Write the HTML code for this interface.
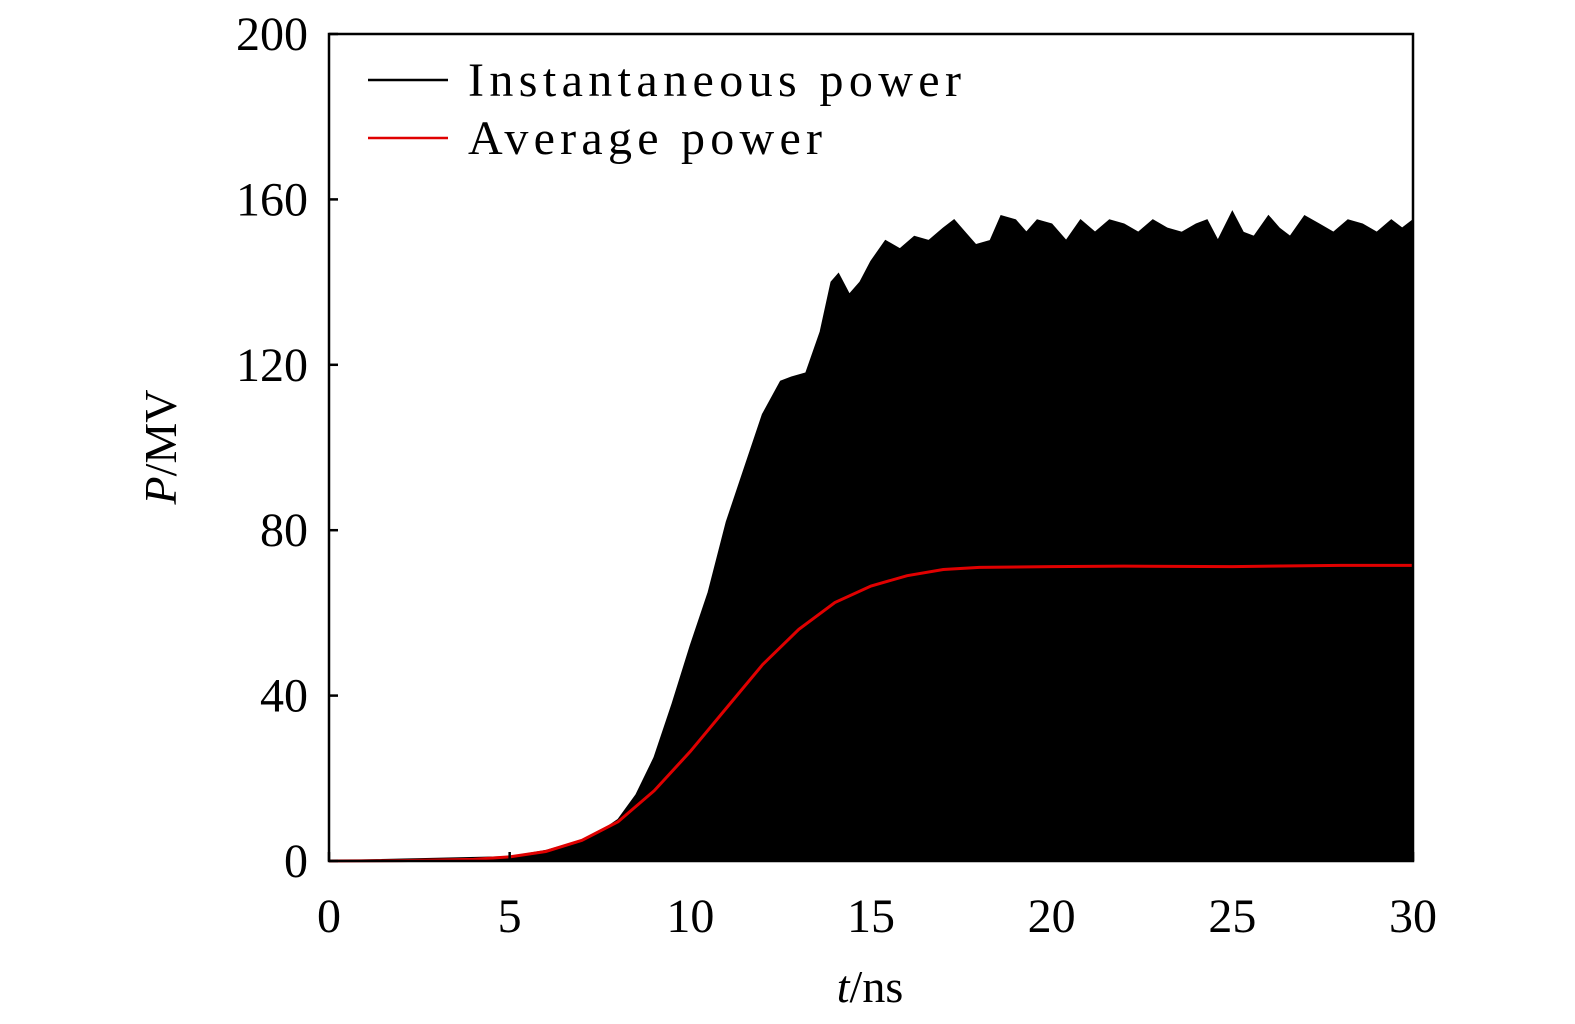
<!DOCTYPE html>
<html><head><meta charset="utf-8"><style>
html,body{margin:0;padding:0;background:#fff;width:1575px;height:1024px;overflow:hidden;}
svg{display:block;}
svg text{font-family:"Liberation Serif",serif;fill:#000;}
</style></head><body>
<svg id="chart" width="1575" height="1024" viewBox="0 0 1575 1024" xmlns="http://www.w3.org/2000/svg">
<g id="plot"></g>
</svg>
<script>
const instT = [0,5,6,7,7.5,8,8.5,9,9.5,10,10.5,11,11.5,12,12.5,12.8,13.2,13.6,13.9,14.1,14.4,14.7,15,15.4,15.8,16.2,16.6,17,17.3,17.6,17.9,18.3,18.6,19,19.3,19.6,20,20.4,20.8,21.2,21.6,22,22.4,22.8,23.2,23.6,24,24.3,24.6,25,25.3,25.6,26,26.3,26.6,27,27.4,27.8,28.2,28.6,29,29.4,29.7,30];
const instP = [0,1,2.5,5,7,10,16,25,38,52,65,82,95,108,116,117,118,128,140,142,137,140,145,150,148,151,150,153,155,152,149,150,156,155,152,155,154,150,155,152,155,154,152,155,153,152,154,155,150,157,152,151,156,153,151,156,154,152,155,154,152,155,153,155];
const avgT = [0,2,4,5,6,7,8,9,10,11,12,13,14,15,16,17,18,20,22,25,28,30];
const avgP = [0,0.1,0.4,1,2.3,5,9.5,17,26.5,37,47.5,56,62.5,66.5,69,70.5,71,71.2,71.3,71.2,71.5,71.5];
const xTicks = [0,5,10,15,20,25,30];
const yTicks = [0,40,80,120,160,200];
const X0=329,X1=1413,Y0=861,Y1=34;
const sx = t => X0 + (t/30)*(X1-X0);
const sy = v => Y0 - (v/200)*(Y0-Y1);
const NS="http://www.w3.org/2000/svg";
const g=document.getElementById('plot');
function mk(tag,attrs){const e=document.createElementNS(NS,tag);for(const k in attrs)e.setAttribute(k,attrs[k]);g.appendChild(e);return e;}
let d=`M${sx(instT[0])},${sy(0)}`;
instT.forEach((t,i)=>{d+=` L${sx(t)},${sy(instP[i])}`;});
d+=` L${sx(instT[instT.length-1])},${sy(0)} Z`;
const inst=mk('path',{d:d,fill:'#000',stroke:'#000','stroke-width':1.5});


const avg=mk('polyline',{points:avgT.map((t,i)=>`${sx(t)},${sy(avgP[i])}`).join(' '),fill:'none',stroke:'#e00000','stroke-width':3});


const fr=mk('rect',{x:X0,y:Y1,width:X1-X0,height:Y0-Y1,fill:'none',stroke:'#000','stroke-width':2.5});


xTicks.forEach(t=>{
  const tk=mk('line',{x1:sx(t),x2:sx(t),y1:Y0,y2:Y0-9,stroke:'#000','stroke-width':2.5});
  
  
  const tx=mk('text',{x:sx(t),y:932,'text-anchor':'middle','font-size':48});
  tx.textContent=t;
  
  
});
yTicks.forEach(v=>{
  const tk=mk('line',{x1:X0,x2:X0+9,y1:sy(v),y2:sy(v),stroke:'#000','stroke-width':2.5});
  
  
  const tx=mk('text',{x:308,y:sy(v)+16,'text-anchor':'end','font-size':48});
  tx.textContent=v;
  
  
});
</script>
<svg style="position:absolute;left:0;top:0" width="1575" height="1024">
<text x="870" y="1002" text-anchor="middle" font-size="46"><tspan font-style="italic">t</tspan>/ns</text>
<text transform="translate(176,447) rotate(-90)" text-anchor="middle" font-size="46"><tspan font-style="italic">P</tspan>/MV</text>
<g>
<line x1="368" x2="448" y1="80" y2="80" stroke="#000" stroke-width="2.5"/>
<text x="468" y="96" font-size="48" textLength="493" lengthAdjust="spacing">Instantaneous power</text>
<line x1="368" x2="448" y1="138" y2="138" stroke="#e00000" stroke-width="2.5"/>
<text x="468" y="154" font-size="48" textLength="354" lengthAdjust="spacing">Average power</text>
</g>
</svg>
</body></html>
